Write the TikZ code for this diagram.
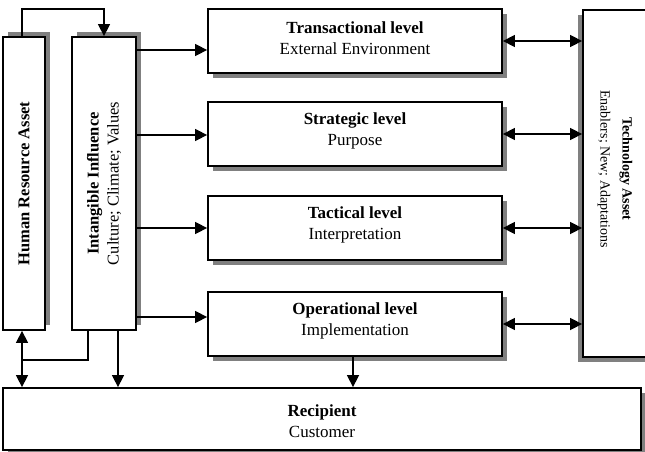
\documentclass[tikz,border=0pt]{standalone}
\usepackage{fontspec}
\setmainfont{Liberation Serif}
\usetikzlibrary{arrows.meta,shadows}
\definecolor{shadowgray}{RGB}{128,128,128}
\begin{document}
\begin{tikzpicture}[x=1pt,y=-1pt,
  box/.style={draw=black, line width=1.8pt, fill=white, inner sep=0pt},
  shbr/.style={drop shadow={shadow xshift=5pt, shadow yshift=-5pt, opacity=1, fill=shadowgray}},
  shtr/.style={drop shadow={shadow xshift=5pt, shadow yshift=5pt, opacity=1, fill=shadowgray}},
  shbl/.style={drop shadow={shadow xshift=-5pt, shadow yshift=-5pt, opacity=1, fill=shadowgray}},
  lvl/.style={box, shbr, minimum width=294pt, minimum height=64pt},
  vbox/.style={box, shtr, minimum height=293pt},
  htxt/.style={align=center, font=\fontsize{17}{21}\selectfont, inner sep=0pt},
  vtxt/.style={align=center, font=\fontsize{16.5}{20}\selectfont, inner sep=0pt},
  ttxt/.style={align=center, font=\fontsize{14}{22}\selectfont, inner sep=0pt},
  conn/.style={line width=1.5pt},
  tip/.style={-{Triangle[length=12pt,width=12pt]}},
  dtip/.style={{Triangle[length=12pt,width=12pt]}-{Triangle[length=12pt,width=12pt]}}
]
\useasboundingbox (0,0) rectangle (645,452);
\fill[white] (0,0) rectangle (645,452);

% left vertical boxes
\node[vbox, minimum width=42pt] (hr) at (24,183.5) {};
\node[vtxt, rotate=90] (hrt) at (hr.center) {\textbf{Human Resource Asset}};
\node[vbox, minimum width=64pt] (intg) at (104,183.5) {};
\node[vtxt, rotate=90] (intgt) at (intg.center) {\textbf{Intangible Influence}\\Culture; Climate; Values};

% level boxes
\node[lvl] (lv1) at (355,41) {};
\node[htxt] (lv1t) at (355,38) {\textbf{Transactional level}\\External Environment};
\node[lvl] (lv2) at (355,134) {};
\node[htxt] (lv2t) at (355,131) {\textbf{Strategic level}\\Purpose};
\node[lvl] (lv3) at (355,228) {};
\node[htxt] (lv3t) at (355,225) {\textbf{Tactical level}\\Interpretation};
\node[lvl] (lv4) at (355,324) {};
\node[htxt] (lv4t) at (355,321) {\textbf{Operational level}\\Implementation};

% technology box
\node[box, shbl, minimum width=77pt, minimum height=347pt] (tech) at (621.5,183.5) {};
\node[ttxt, rotate=-90] (techt) at (615,169) {\textbf{Technology Asset}\\Enablers; New; Adaptations};

% recipient
\node[box, shbr, minimum width=638pt, minimum height=62pt] (rec) at (322,419) {};
\node[htxt] (rect) at (322,421) {\textbf{Recipient}\\Customer};

% coordinates
\coordinate (top) at (0,9);
\coordinate (a1) at (0,50);
\coordinate (a2) at (0,135);
\coordinate (a3) at (0,228);
\coordinate (a4) at (0,317);
\coordinate (hx) at (22,0);
\coordinate (ix1) at (88,0);
\coordinate (ix2) at (118,0);
\coordinate (jn) at (22,360);
\coordinate (ox) at (353,0);

% top loop
\draw[conn, tip] (hr.north -| hx) |- (top -| intg.north) -- (intg.north);

% intangible to levels
\draw[conn, tip] (intg.east |- a1) -- (lv1.west |- a1);
\draw[conn, tip] (intg.east |- a2) -- (lv2.west |- a2);
\draw[conn, tip] (intg.east |- a3) -- (lv3.west |- a3);
\draw[conn, tip] (intg.east |- a4) -- (lv4.west |- a4);

% levels to technology
\draw[conn, dtip] (lv1.east) -- (lv1.east -| tech.west);
\draw[conn, dtip] (lv2.east) -- (lv2.east -| tech.west);
\draw[conn, dtip] (lv3.east) -- (lv3.east -| tech.west);
\draw[conn, dtip] (lv4.east) -- (lv4.east -| tech.west);

% bottom connections
\draw[conn, dtip] (hr.south -| hx) -- (rec.north -| hx);
\draw[conn] (intg.south -| ix1) |- (jn);
\draw[conn, tip] (intg.south -| ix2) -- (rec.north -| ix2);
\draw[conn, tip] (lv4.south -| ox) -- (rec.north -| ox);
\end{tikzpicture}
\end{document}
